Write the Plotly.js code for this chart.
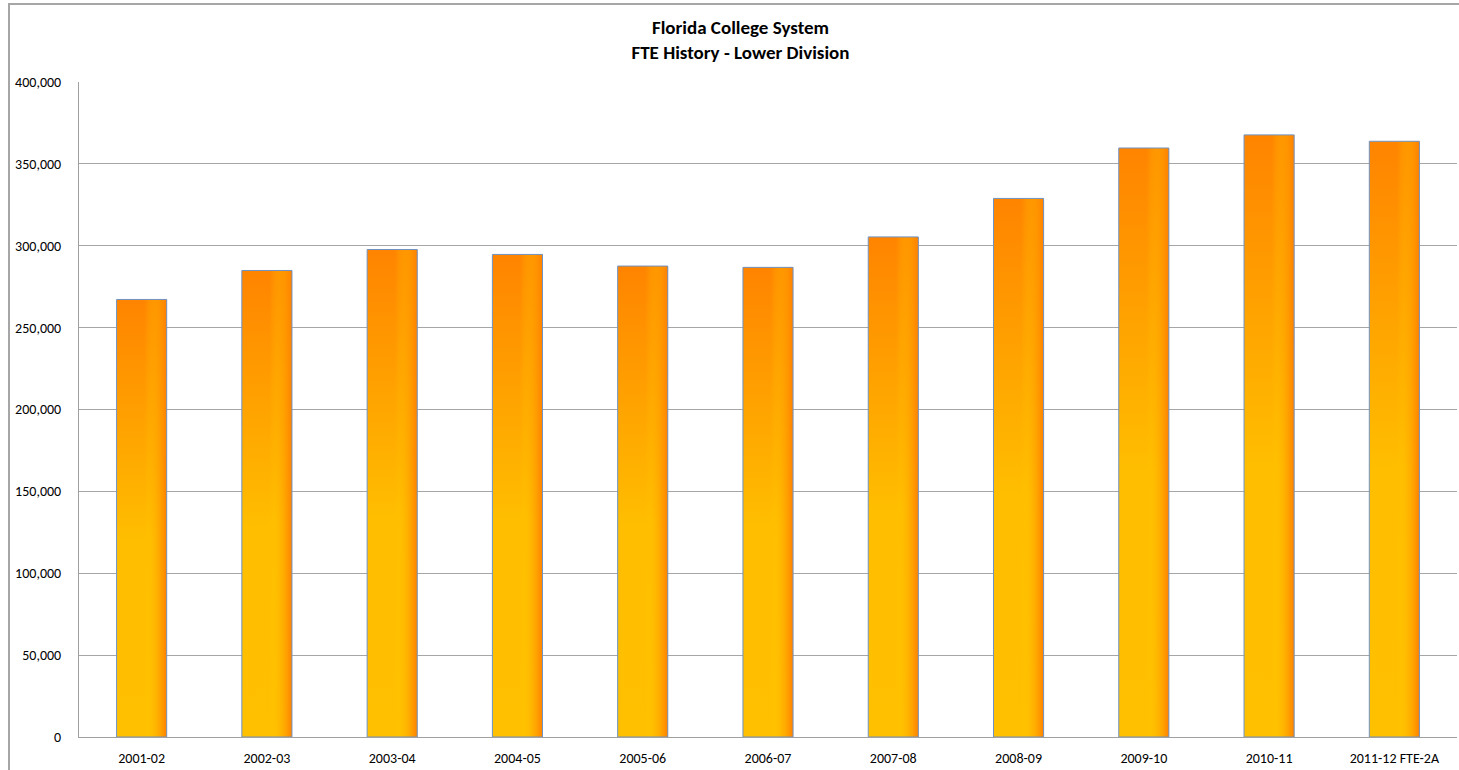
<!DOCTYPE html>
<html>
<head>
<meta charset="utf-8">
<script src="https://cdn.plot.ly/plotly-3.0.1.min.js"></script>
<style>
html,body{margin:0;padding:0;background:#fff;overflow:hidden;}
#frame{position:absolute;left:8px;top:3px;width:1500px;height:800px;border:2px solid #A6A6A6;box-sizing:border-box;pointer-events:none;z-index:5;}
#chart{position:absolute;left:0;top:0;width:1459px;height:770px;}
</style>
</head>
<body>
<div id="chart"></div>
<div id="frame"></div>
<script>
var categories = ["2001-02","2002-03","2003-04","2004-05","2005-06","2006-07","2007-08","2008-09","2009-10","2010-11","2011-12 FTE-2A"];
var fteValues = [267200, 284900, 297700, 294700, 287600, 286800, 305400, 328900, 359700, 367700, 363800];
var yTicks = [0, 50000, 100000, 150000, 200000, 250000, 300000, 350000, 400000];
var titleLines = ["Florida College System", "FTE History - Lower Division"];

var FONT = "Carlito, Lato, 'Open Sans', sans-serif";
var PLOT_TOP = 82, PLOT_BOTTOM = 737, PLOT_LEFT = 79, PLOT_RIGHT = 1457;

var traces = [
  {
    type: "bar", x: categories, y: fteValues, width: 0.4,
    marker: {color: "#FFA000", line: {width: 0}},
    hoverinfo: "skip", showlegend: false
  },
  {
    type: "bar", x: categories, y: fteValues, width: 0.4,
    marker: {color: "rgba(255,128,0,0.5)", line: {color: "#6F93C4", width: 1}},
    hoverinfo: "x+y", showlegend: false
  }
];

var layout = {
  width: 1459, height: 770,
  margin: {l: PLOT_LEFT, r: 1459 - PLOT_RIGHT, t: PLOT_TOP, b: 770 - PLOT_BOTTOM},
  paper_bgcolor: "#fff", plot_bgcolor: "#fff",
  barmode: "overlay",
  font: {family: FONT, size: 14, color: "#000"},
  title: {
    text: "<b>" + titleLines.join("</b><br><b>") + "</b>",
    font: {family: FONT, size: 19, color: "#000"},
    x: 740.5 / 1459, xanchor: "center", xref: "container",
    y: 1 - 34 / 770, yanchor: "top", yref: "container"
  },
  xaxis: {
    type: "category", showgrid: false, ticks: "",
    showline: true, linecolor: "#A0A0A0", linewidth: 1,
    tickfont: {family: FONT, size: 14, color: "#000"},
    ticklabelstandoff: 8, zeroline: false, fixedrange: true
  },
  yaxis: {
    range: [0, 400000], tickvals: yTicks, tickformat: ",d",
    showgrid: true, gridcolor: "#A6A6A6", gridwidth: 1,
    showline: true, linecolor: "#A0A0A0", linewidth: 1,
    zeroline: false, ticks: "",
    tickfont: {family: FONT, size: 14, color: "#000"},
    ticklabelstandoff: 14, fixedrange: true
  }
};

Plotly.newPlot("chart", traces, layout, {displayModeBar: false}).then(function(gd){
  var svg = gd.querySelector("svg.main-svg");
  var ns = "http://www.w3.org/2000/svg";
  var defs = svg.querySelector("defs") || svg.insertBefore(document.createElementNS(ns, "defs"), svg.firstChild);
  function grad(id, x2, y2, stops){
    var g = document.createElementNS(ns, "linearGradient");
    g.setAttribute("id", id);
    g.setAttribute("x1", "0"); g.setAttribute("y1", "0");
    g.setAttribute("x2", x2); g.setAttribute("y2", y2);
    stops.forEach(function(s){
      var st = document.createElementNS(ns, "stop");
      st.setAttribute("offset", s[0]);
      st.setAttribute("stop-color", s[1]);
      st.setAttribute("stop-opacity", s[2]);
      g.appendChild(st);
    });
    defs.appendChild(g);
  }
  grad("gVert", "0", "1", [["0", "#FF8400", 1], ["0.55", "#FFBE00", 1], ["1", "#FFC000", 1]]);
  grad("gHorz", "1", "0", [["0", "#FF8000", 0], ["0.55", "#FFC800", 0], ["0.62", "#FFC800", 0.15], ["1", "#FF8000", 1]]);
  var groups = gd.querySelectorAll(".barlayer .trace");
  groups.forEach(function(tr, i){
    tr.querySelectorAll("path").forEach(function(p){
      p.style.fill = i === 0 ? "url(#gVert)" : "url(#gHorz)";
      p.style.fillOpacity = 1;
    });
  });
});
</script>
</body>
</html>
